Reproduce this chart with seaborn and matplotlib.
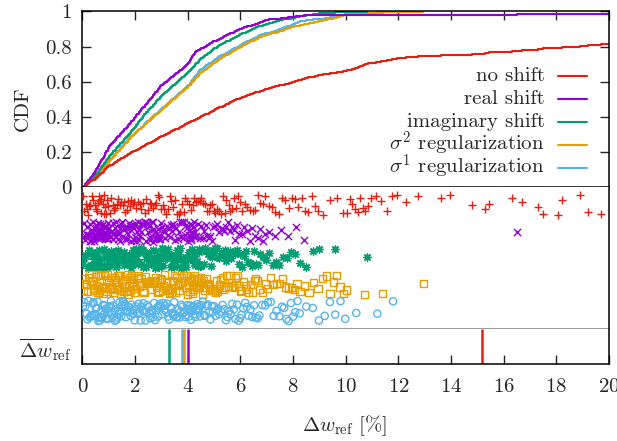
import numpy as np
import pandas as pd
import matplotlib
matplotlib.use("Agg")
import matplotlib.pyplot as plt
import seaborn as sns
from matplotlib.ticker import FuncFormatter, MultipleLocator

methods = ["no shift", "real shift", "imaginary shift",
           r"$\sigma^2$ regularization", r"$\sigma^1$ regularization"]
colors = ["#e51e10", "#9400d3", "#009e73", "#e69f00", "#56b4e9"]
markers = ["+", "x", (8, 2, 0), "s", "o"]

no_shift = [0.03, 0.07, 0.12, 0.16, 0.21, 0.26, 0.3, 0.35, 0.41, 0.47,
            0.52, 0.55, 0.59, 0.62, 0.66, 0.69, 0.72, 0.76, 0.8, 0.83, 0.87, 0.9, 0.94, 0.98,
            1.04, 1.09, 1.14, 1.2, 1.25, 1.3, 1.35, 1.41, 1.46, 1.52, 1.57, 1.62,
            1.68, 1.73, 1.79, 1.84, 1.9, 1.96,
            2.04, 2.1, 2.17, 2.23, 2.29, 2.36, 2.42, 2.48, 2.55, 2.61, 2.67, 2.74,
            2.8, 2.86, 2.92, 2.98,
            3.05, 3.11, 3.18, 3.25, 3.31, 3.38, 3.45, 3.52, 3.58, 3.65, 3.72, 3.79,
            3.85, 3.91, 3.98,
            4.05, 4.11, 4.18, 4.25, 4.31, 4.38, 4.45, 4.52, 4.58, 4.65, 4.72, 4.79,
            4.85, 4.92, 4.98,
            5.04, 5.12, 5.19, 5.26, 5.33, 5.4, 5.47, 5.55, 5.62, 5.69, 5.76, 5.83, 5.9, 5.97,
            6.06, 6.16, 6.26, 6.36, 6.46, 6.55, 6.65, 6.75, 6.85, 6.95,
            7.08, 7.2, 7.33, 7.45, 7.58, 7.7, 7.83, 7.95,
            8.07, 8.2, 8.32, 8.45, 8.57, 8.7, 8.82, 8.95,
            9.15, 9.4, 9.65, 9.9,
            10.05, 10.15, 10.25, 10.35, 10.45, 10.55, 10.65, 10.75, 10.85, 10.95,
            11.15, 11.35, 11.55, 11.75, 11.95, 12.3, 12.75, 13.6, 13.95,
            14.8, 15.3, 15.45, 16.3, 16.7, 17.3, 17.5, 18.05, 18.2, 18.9, 19.2, 19.7,
            20.5, 21, 22, 23, 24, 25, 26.5, 28, 29.5, 31, 33, 35, 37, 39, 41,
            44, 47, 50, 53, 57, 61, 65, 70, 75, 80, 86, 92, 99, 106, 114,
            123, 133, 145, 160, 180, 205, 240]
real_shift = [0.02, 0.05, 0.08, 0.1, 0.13, 0.16, 0.19, 0.22, 0.25, 0.27, 0.3, 0.33, 0.36, 0.39,
              0.41, 0.43, 0.45, 0.47, 0.49, 0.51, 0.53, 0.55, 0.57, 0.59, 0.61, 0.63,
              0.64, 0.66, 0.68, 0.7, 0.72, 0.74, 0.76, 0.78, 0.8, 0.82, 0.84, 0.86,
              0.87, 0.89, 0.91, 0.93, 0.95, 0.96, 0.98, 0.99,
              1.02, 1.05, 1.08, 1.11, 1.14, 1.17, 1.2, 1.23, 1.26, 1.29, 1.32, 1.35,
              1.38, 1.41, 1.44, 1.47, 1.5, 1.53, 1.56, 1.59, 1.62, 1.65, 1.68, 1.71,
              1.74, 1.77, 1.8, 1.83, 1.86, 1.89, 1.92, 1.94, 1.96, 1.99,
              2.02, 2.05, 2.08, 2.11, 2.13, 2.16, 2.19, 2.22, 2.24, 2.27, 2.3, 2.33,
              2.36, 2.38, 2.41, 2.44, 2.47, 2.5, 2.52, 2.55, 2.58, 2.61, 2.63, 2.66,
              2.69, 2.72, 2.75, 2.77, 2.8, 2.83, 2.86, 2.88, 2.91, 2.94, 2.96, 2.99,
              3.03, 3.07, 3.11, 3.15, 3.2, 3.24, 3.28, 3.32, 3.36, 3.41, 3.45, 3.49,
              3.53, 3.57, 3.61, 3.65, 3.7, 3.74, 3.78, 3.82, 3.86, 3.9, 3.94, 3.98,
              4.01, 4.03, 4.05, 4.07, 4.09, 4.11, 4.13, 4.15, 4.17, 4.19, 4.21, 4.24,
              4.26, 4.29,
              4.33, 4.39, 4.45, 4.5, 4.56, 4.62, 4.68, 4.73, 4.79, 4.85, 4.91, 4.97,
              5.04, 5.11, 5.18, 5.25, 5.32, 5.39, 5.46, 5.53, 5.6, 5.67, 5.74, 5.81,
              5.88, 5.95,
              6.05, 6.15, 6.25, 6.35, 6.45, 6.55, 6.65, 6.75, 6.85, 6.95,
              7.1, 7.3, 7.55, 7.8, 8.1, 8.4, 16.5, 35.0, 60.0, 95.0]
imag_shift = [0.03, 0.07, 0.11, 0.15, 0.19, 0.23, 0.27, 0.31, 0.35, 0.39,
              0.42, 0.44, 0.47, 0.49, 0.52, 0.54, 0.57, 0.59, 0.61, 0.64, 0.66, 0.69,
              0.71, 0.73, 0.76, 0.78, 0.81, 0.83, 0.85, 0.88, 0.9, 0.92, 0.95, 0.97, 0.99,
              1.02, 1.05, 1.08, 1.11, 1.14, 1.17, 1.2, 1.23, 1.26, 1.29, 1.32, 1.35,
              1.38, 1.41, 1.44, 1.47, 1.5, 1.53, 1.56, 1.59, 1.62, 1.65, 1.68, 1.71,
              1.74, 1.77, 1.8, 1.83, 1.86, 1.89, 1.92, 1.94, 1.96, 1.99,
              2.02, 2.05, 2.07, 2.1, 2.12, 2.15, 2.17, 2.2, 2.23, 2.25, 2.28, 2.3,
              2.33, 2.35, 2.38, 2.4, 2.43,
              2.47, 2.5, 2.53, 2.56, 2.59, 2.62, 2.66, 2.69, 2.72, 2.75, 2.78, 2.81,
              2.84, 2.87, 2.9, 2.93, 2.96, 2.99,
              3.02, 3.06, 3.1, 3.14, 3.18, 3.21, 3.25, 3.29, 3.33, 3.37, 3.41, 3.45,
              3.48, 3.52, 3.56, 3.6, 3.64, 3.68, 3.71, 3.75, 3.79, 3.83, 3.87, 3.91,
              3.94, 3.98,
              4.02, 4.05, 4.08, 4.11, 4.14, 4.17, 4.2, 4.23, 4.26, 4.29, 4.32, 4.35,
              4.38, 4.41, 4.44, 4.46,
              4.51, 4.56, 4.6, 4.65, 4.69, 4.74, 4.78, 4.83, 4.87, 4.92, 4.96, 5.01,
              5.05, 5.1, 5.14, 5.19,
              5.26, 5.33, 5.4, 5.46, 5.53, 5.6, 5.66, 5.73, 5.8, 5.86, 5.93, 5.99,
              6.04, 6.12, 6.2, 6.28, 6.36, 6.43, 6.51, 6.59, 6.66, 6.74,
              6.85, 6.98, 7.1, 7.23, 7.35, 7.48, 7.62, 7.77, 7.92, 8.08, 8.25,
              8.5, 8.75, 9.0, 9.6, 10.8]
sigma2_reg = [0.04, 0.08, 0.12, 0.16, 0.2, 0.24, 0.28, 0.32, 0.36, 0.4,
              0.43, 0.46, 0.49, 0.52, 0.56, 0.59, 0.62, 0.65, 0.68, 0.71, 0.75, 0.78,
              0.81, 0.84, 0.87, 0.9, 0.93, 0.96, 0.99,
              1.02, 1.05, 1.08, 1.11, 1.14, 1.17, 1.2, 1.23, 1.26, 1.29, 1.32, 1.35,
              1.38, 1.41, 1.44, 1.47, 1.5, 1.53, 1.56, 1.59, 1.62, 1.65, 1.68, 1.71,
              1.74, 1.77, 1.8, 1.83, 1.86, 1.89, 1.92, 1.95, 1.98,
              2.03, 2.07, 2.11, 2.14, 2.18, 2.22, 2.26, 2.3, 2.34, 2.37, 2.41, 2.45,
              2.49, 2.53, 2.57, 2.6, 2.64, 2.68, 2.72, 2.76, 2.8, 2.83, 2.87, 2.91,
              2.95, 2.99,
              3.03, 3.07, 3.11, 3.14, 3.18, 3.22, 3.26, 3.3, 3.34, 3.37, 3.41, 3.45,
              3.49, 3.53, 3.57, 3.6, 3.64, 3.68, 3.72, 3.76, 3.8, 3.83, 3.87, 3.91,
              3.95, 3.99,
              4.02, 4.05, 4.08, 4.11, 4.14, 4.17, 4.2, 4.23, 4.26, 4.29, 4.32, 4.35,
              4.38, 4.41, 4.44, 4.47,
              4.51, 4.56, 4.6, 4.65, 4.69, 4.74, 4.78, 4.83, 4.87, 4.92, 4.96, 5.01,
              5.05, 5.1, 5.14, 5.19,
              5.25, 5.31, 5.37, 5.42, 5.48, 5.54, 5.6, 5.65, 5.71, 5.77, 5.82, 5.88,
              5.94, 5.99,
              6.04, 6.11, 6.18, 6.24, 6.31, 6.38, 6.45, 6.52, 6.58, 6.65, 6.72,
              6.83, 6.94, 7.04, 7.15, 7.26, 7.37, 7.48,
              7.6, 7.71, 7.82, 7.93, 8.04, 8.15, 8.26,
              8.42, 8.6, 8.78, 8.95, 9.12, 9.27,
              9.4, 9.52, 9.65, 9.78, 9.9, 10.03, 10.7, 11.4, 12.95]
sigma1_reg = [0.03, 0.07, 0.11, 0.15, 0.19, 0.23, 0.27, 0.31, 0.35, 0.39,
              0.42, 0.45, 0.48, 0.51, 0.54, 0.57, 0.6, 0.63, 0.66, 0.69, 0.72, 0.75,
              0.78, 0.81, 0.84, 0.87, 0.9, 0.93, 0.96, 0.99,
              1.02, 1.05, 1.08, 1.11, 1.14, 1.17, 1.2, 1.23, 1.26, 1.29, 1.32, 1.35,
              1.38, 1.41, 1.44, 1.47, 1.5, 1.53, 1.56, 1.59, 1.62, 1.65, 1.68, 1.71,
              1.74, 1.77, 1.8, 1.83, 1.86, 1.9, 1.94, 1.98,
              2.02, 2.06, 2.1, 2.13, 2.17, 2.21, 2.24, 2.28, 2.32, 2.35, 2.39, 2.43,
              2.46, 2.5, 2.54, 2.57, 2.61, 2.65, 2.68, 2.72, 2.76, 2.79, 2.83, 2.87,
              2.9, 2.94, 2.98,
              3.02, 3.06, 3.1, 3.14, 3.18, 3.21, 3.25, 3.29, 3.33, 3.37, 3.41, 3.45,
              3.48, 3.52, 3.56, 3.6, 3.64, 3.68, 3.71, 3.75, 3.79, 3.83, 3.87, 3.91,
              3.94, 3.98,
              4.02, 4.04, 4.07, 4.09, 4.12, 4.14, 4.17, 4.19, 4.22, 4.24, 4.27, 4.29,
              4.32, 4.34, 4.37, 4.39, 4.42, 4.44, 4.46,
              4.52, 4.57, 4.62, 4.66, 4.71, 4.76, 4.81, 4.86, 4.91, 4.95, 5.0, 5.05,
              5.1, 5.15, 5.19,
              5.26, 5.32, 5.39, 5.45, 5.51, 5.57, 5.63, 5.69, 5.75, 5.81, 5.87, 5.93, 5.99,
              6.04, 6.11, 6.18, 6.24, 6.31, 6.38, 6.45, 6.52, 6.58, 6.65, 6.72,
              6.83, 6.94, 7.04, 7.15, 7.26, 7.37, 7.48,
              7.58, 7.66, 7.75, 7.83, 7.92, 8.0, 8.08, 8.17, 8.25,
              8.5, 8.75, 8.98, 9.2, 9.4, 9.6, 9.8, 9.98, 10.4, 11.2, 11.8]

# mean over all cases (incl. the ones beyond 20 %)
mean_shift = [15.17, 4.0, 3.29, 3.87, 3.78]

samples = [no_shift, real_shift, imag_shift, sigma2_reg, sigma1_reg]
df = pd.DataFrame({"method": [m for m, s in zip(methods, samples) for _ in s],
                   "dw": [v for s in samples for v in s]})
df_mean = pd.DataFrame({"method": methods, "dw": mean_shift})
palette = dict(zip(methods, colors))

sns.set_style("white")
plt.rcParams["font.family"] = "cmr10"
plt.rcParams["mathtext.fontset"] = "cm"
plt.rcParams["axes.formatter.use_mathtext"] = True
plt.rcParams["font.size"] = 15
plt.rcParams["axes.linewidth"] = 1.1
plt.rcParams["axes.edgecolor"] = "black"

fig = plt.figure(figsize=(6.17, 4.41), dpi=100)
L, R = 82.5 / 617, 609 / 617


def box(top, bottom):
    return [L, 1 - bottom / 441, R - L, (bottom - top) / 441]


ax_cdf = fig.add_axes(box(11.5, 187.5))
ax_pts = fig.add_axes(box(187.5, 328.5))
ax_avg = fig.add_axes(box(328.5, 364))

# --- CDF panel
sns.ecdfplot(data=df, x="dw", hue="method", hue_order=methods, palette=palette,
             linewidth=1.5, ax=ax_cdf, legend=False)

# gnuplot-like key: right aligned text, sample line on the right
for i, (m, c) in enumerate(zip(methods, colors)):
    yc = (187.5 - (76 + 23 * i)) / 176
    ax_cdf.text(0.878, yc - 5.5 / 176, m, transform=ax_cdf.transAxes,
                ha="right", va="baseline")
    ax_cdf.plot([0.904, 0.959], [yc, yc], transform=ax_cdf.transAxes,
                color=c, lw=1.5)

ax_cdf.set_xlim(0, 20)
ax_cdf.set_ylim(0, 1)
ax_cdf.xaxis.set_major_locator(MultipleLocator(2))
ax_cdf.yaxis.set_major_locator(MultipleLocator(0.2))
ax_cdf.yaxis.set_major_formatter(FuncFormatter(lambda v, p: f"{v:g}"))
ax_cdf.tick_params(axis="x", direction="in", top=True, bottom=False,
                   labelbottom=False, length=6.5, width=1)
ax_cdf.tick_params(axis="y", direction="in", left=True, right=True,
                   length=6.5, width=1, pad=8)
ax_cdf.set_xlabel("")
ax_cdf.set_ylabel("CDF")
ax_cdf.yaxis.set_label_coords(-0.096, 0.45)

# --- scatter panel
np.random.seed(7)
for m, c, mk in zip(methods, colors, markers):
    kw = dict(facecolors="none", edgecolor=c) if mk in ("s", "o") else {}
    sns.stripplot(data=df[df.method == m], x="dw", y="method", order=methods,
                  color=c, marker=mk, size=5.2, linewidth=1.0, jitter=0.38,
                  ax=ax_pts, **kw)
ax_pts.set_xlim(0, 20)
ax_pts.set_ylim(4.66, -0.66)
ax_pts.set_xticks([])
ax_pts.set_yticks([])
ax_pts.set_xlabel("")
ax_pts.set_ylabel("")
ax_pts.spines["top"].set_visible(False)
ax_pts.spines["bottom"].set_color("#808080")

# --- mean panel
sns.rugplot(data=df_mean, x="dw", hue="method", hue_order=methods, palette=palette,
            height=1, linewidth=1.8, expand_margins=False, ax=ax_avg, legend=False)
ax_avg.set_xlim(0, 20)
ax_avg.set_ylim(0, 1)
ax_avg.xaxis.set_major_locator(MultipleLocator(2))
ax_avg.set_yticks([])
ax_avg.tick_params(axis="x", direction="in", bottom=True, length=6.5, width=1, pad=10)
ax_avg.spines["top"].set_visible(False)
ax_avg.set_ylabel(r"$\overline{\Delta w}_{\mathrm{ref}}$", rotation=0,
                  ha="right", va="center")
ax_avg.yaxis.set_label_coords(-0.02, 0.40)
ax_avg.set_xlabel(r"$\Delta w_{\mathrm{ref}}\ [\%]$")
ax_avg.xaxis.set_label_coords(0.497, -1.38)

fig.savefig("out.png", dpi=100)
